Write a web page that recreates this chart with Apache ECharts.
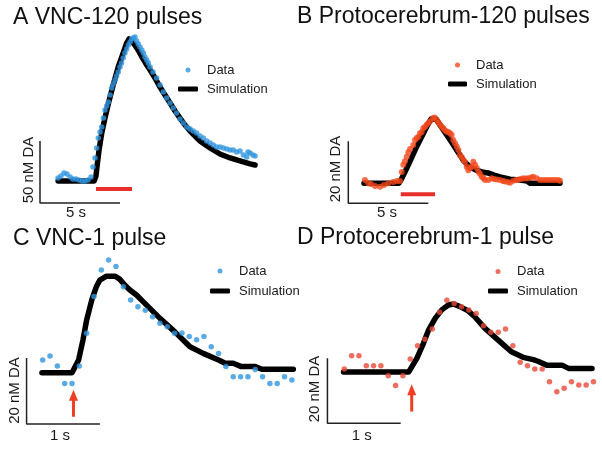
<!DOCTYPE html>
<html><head><meta charset="utf-8">
<script src="https://cdn.jsdelivr.net/npm/echarts@6/dist/echarts.min.js"></script>
<style>html,body{margin:0;padding:0;background:#fff}#c{width:602px;height:449px}</style>
</head><body><div id="c"></div>
<script>
// ---------- Panel A: VNC-120 pulses (time s, DA nM above scale-bar origin) ----------
const tA_data = [1.13,1.31,1.5,1.69,1.88,2.06,2.25,2.44,2.63,2.81,3.0,3.19,3.31,3.44,3.54,3.64,3.75,3.86,3.96,4.06,4.17,4.27,4.38,4.48,4.58,4.69,4.79,4.89,5.0,5.1,5.2,5.31,5.42,5.52,5.63,5.73,5.83,5.94,6.04,6.14,6.25,6.36,6.46,6.56,6.67,6.77,6.88,7.06,7.29,7.5,7.71,7.92,8.13,8.33,8.54,8.75,8.96,9.17,9.38,9.58,9.79,10.0,10.21,10.42,10.63,10.83,11.04,11.25,11.46,11.67,11.88,12.08,12.29,12.5,12.71,12.92,13.0,13.13,13.31,13.44];
const yA_data = [20.2,21.8,24.2,23.4,21.0,19.4,19.4,18.5,17.7,17.7,18.5,21.0,29.0,36.3,44.4,52.4,57.3,61.3,68.5,75.0,78.2,81.5,87.1,92.7,96.0,99.2,102.4,105.6,109.7,112.9,116.9,121.0,124.2,127.4,129.8,132.3,133.1,133.9,130.6,128.2,125.8,123.4,121.0,117.7,115.3,112.9,109.7,105.6,100.8,95.2,89.5,84.7,80.6,76.6,72.6,67.7,64.5,61.3,59.7,58.1,56.5,54.0,52.4,50.0,48.4,46.8,45.2,45.2,44.4,43.5,42.7,42.7,41.1,41.9,38.7,37.1,41.1,40.3,38.7,37.9];
const tA_sim = [1.13,3.38,3.5,3.56,3.69,3.86,4.06,4.33,4.56,4.89,5.13,5.42,5.56,5.69,5.88,6.13,6.38,6.63,6.88,7.19,7.5,7.81,8.13,8.44,8.75,9.06,9.38,9.69,10.0,10.63,11.25,11.88,12.5,13.13,13.44];
const yA_sim = [17.7,17.7,21.8,29.0,42.7,56.5,68.5,83.1,94.4,109.7,118.5,129.0,132.3,131.5,128.2,123.4,117.7,112.1,107.3,100.8,93.5,87.1,80.6,74.2,68.5,62.9,58.1,54.0,50.0,44.4,39.5,36.3,33.9,31.5,30.6];
const stimA = [[3.5,11.3],[5.75,11.3]];
const scaleA = [[0,50],[0,0],[5,0]];

// ---------- Panel B: Protocerebrum-120 pulses ----------
const tB_data = [1.04,1.25,1.42,1.67,1.98,2.23,2.5,2.81,3.03,3.23,3.34,3.44,3.54,3.65,3.75,3.86,4.06,4.17,4.28,4.38,4.48,4.59,4.69,4.79,4.9,5.0,5.11,5.28,5.39,5.53,5.63,5.73,5.84,5.94,6.04,6.15,6.25,6.36,6.46,6.56,6.67,6.78,6.88,6.98,7.09,7.19,7.29,7.4,7.5,7.61,7.71,7.81,7.92,8.03,8.13,8.23,8.34,8.44,8.54,8.75,8.96,9.11,9.28,9.48,9.67,9.79,9.98,10.11,10.31,10.48,10.63,10.79,10.94,11.11,11.25,11.42,11.56,11.78,11.98,12.17,12.36,12.54,12.73,12.92,13.11,13.23];
const yB_data = [7.5,6.5,6.2,5.6,5.3,5.9,6.5,6.9,7.2,7.2,10.1,12.4,13.6,15.0,16.5,17.5,18.8,20.4,21.1,21.5,22.6,23.0,24.2,24.6,25.3,25.9,26.5,27.4,27.7,26.9,26.1,25.3,24.7,24.2,23.6,23.1,23.0,22.6,22.0,20.4,19.4,18.3,17.2,15.6,14.9,14.0,13.3,11.8,10.7,11.4,11.8,13.4,12.4,11.4,10.2,9.5,8.6,8.2,7.5,7.5,8.1,7.8,7.7,7.5,7.2,7.0,6.9,6.6,7.3,7.5,7.7,7.8,8.1,8.0,8.1,8.3,8.6,8.1,7.5,7.5,7.5,7.5,7.5,7.5,7.5,7.3];
const tB_sim = [0.98,3.17,3.29,3.54,3.86,4.23,4.61,4.92,5.17,5.29,5.48,5.73,6.11,6.48,6.86,7.23,7.61,7.98,8.36,8.73,9.11,9.48,10.11,10.73,11.17,11.36,13.23];
const yB_sim = [6.5,6.5,7.5,10.1,13.6,17.8,21.7,24.9,27.2,27.8,27.2,25.3,22.4,19.5,16.5,13.6,11.7,10.7,10.1,9.8,9.1,8.5,7.8,7.5,7.2,6.5,6.5];
const stimB = [[3.28,2.9],[5.42,2.9]];
const scaleB = [[0,20],[0,0],[5,0]];

// ---------- Panel C: VNC-1 pulse ----------
const tC_data = [0,0.1,0.2,0.3,0.4,0.5,0.6,0.7,0.8,0.9,1.0,1.1,1.2,1.3,1.4,1.5,1.6,1.7,1.8,1.9,2.0,2.1,2.2,2.3,2.4,2.5,2.6,2.7,2.8,2.9,3.0,3.1,3.2,3.3,3.4];
const yC_data = [19.4,20.6,17.6,12.3,12.3,17.6,27.5,38.6,46.7,49.7,47.7,41.6,37.6,35.5,34.5,32.5,30.5,29.5,27.5,27.6,26.5,25.5,26.5,23.4,21.4,17.4,14.3,14.3,14.3,16.5,14.3,12.3,12.3,14.3,13.3];
const tC_sim = [-0.01,0.40,0.49,0.55,0.60,0.67,0.73,0.78,0.87,0.99,1.05,1.12,1.19,1.28,1.37,1.46,1.60,1.80,2.01,2.19,2.40,2.49,2.60,2.71,2.90,2.99,3.42];
const yC_sim = [15.5,15.5,19.4,25.5,31.5,37.6,41.5,43.6,44.8,44.8,43.9,42.1,40.6,39.1,37.1,35.1,32.0,28.0,23.4,21.4,19.4,18.4,18.4,17.4,17.4,16.6,16.6];
const arrowC = [[0.42,2.2],[0.42,8.7]];
const scaleC = [[-0.22,20],[-0.22,0],[0.78,0]];

// ---------- Panel D: Protocerebrum-1 pulse ----------
const tD_data = [0,0.1,0.2,0.3,0.4,0.5,0.6,0.7,0.8,0.9,1.0,1.1,1.2,1.3,1.4,1.5,1.6,1.7,1.8,1.9,2.0,2.1,2.2,2.3,2.4,2.5,2.6,2.7,2.8,2.9,3.0,3.1,3.2,3.3,3.4];
const yD_data = [16.7,20.8,20.8,17.7,17.7,17.7,14.6,11.6,14.6,19.8,23.9,25.9,29.0,34.2,37.9,36.9,35.9,34.9,33.8,30.0,28.0,28.0,29.0,23.9,18.8,17.7,16.7,16.7,12.8,9.7,10.8,12.8,11.8,11.8,12.8];
const tD_sim = [-0.01,0.88,0.99,1.08,1.15,1.24,1.33,1.42,1.49,1.58,1.69,1.78,1.92,2.10,2.28,2.44,2.58,2.65,2.76,2.97,3.06,3.38];
const yD_sim = [15.8,15.8,20.0,24.6,28.7,32.3,34.9,36.4,36.7,35.9,34.6,32.8,29.2,25.6,22.0,20.3,19.6,19.0,17.9,17.9,16.9,16.9];
const arrowD = [[0.92,3.6],[0.92,10.3]];
const scaleD = [[-0.23,20],[-0.23,0],[0.77,0]];

const titles = ['A VNC-120 pulses','B Protocerebrum-120 pulses','C VNC-1 pulse','D Protocerebrum-1 pulse'];
const yLabels = ['50 nM DA','20 nM DA','20 nM DA','20 nM DA'];
const xLabels = ['5 s','5 s','1 s','1 s'];

const FONT = '"Liberation Sans", Arial, Helvetica, sans-serif';
const BLUE = '#2f95de', ORANGE = '#f2481c', SALMON = '#e84a3a', RED = '#e8302a', ARROW = '#ef3f22';
const zip = (t, y) => t.map((v, i) => [v, y[i]]);

const panels = [
  {grid:{left:40, top:29.4, width:224, height:173.6}, x:[0,14], y:[0,140], id:'A', color:BLUE, size:5.5,
   data:zip(tA_data,yA_data), sim:zip(tA_sim,yA_sim), scale:scaleA, stim:stimA,
   legend:{left:178, top:63.5, itemGap:6, itemWidth:20},
   title:{left:13, top:6}, yl:[29,170], xl:[76,213]},
  {grid:{left:348.3, top:63.8, width:224, height:139.5}, x:[0,14], y:[0,45], id:'B', color:ORANGE, size:6,
   data:zip(tB_data,yB_data), sim:zip(tB_sim,yB_sim), scale:scaleB, stim:stimB,
   legend:{left:448, top:58.5, itemGap:6, itemWidth:19},
   title:{left:297, top:5}, yl:[335.5,169], xl:[387,213]},
  {grid:{left:20.7, top:242.5, width:278.5, height:181.5}, x:[-0.3,3.5], y:[0,55], id:'C', color:BLUE, size:5.5,
   data:zip(tC_data,yC_data), sim:zip(tC_sim,yC_sim), scale:scaleC, arrow:arrowC,
   legend:{left:210, top:264.5, itemGap:7, itemWidth:20},
   title:{left:13, top:227}, yl:[15,390.5], xl:[60,436]},
  {grid:{left:322.3, top:260.8, width:278.5, height:162.5}, x:[-0.3,3.5], y:[0,50], id:'D', color:SALMON, size:5.5,
   data:zip(tD_data,yD_data), sim:zip(tD_sim,yD_sim), scale:scaleD, arrow:arrowD,
   legend:{left:488, top:265, itemGap:6.5, itemWidth:20},
   title:{left:297, top:226}, yl:[315,389], xl:[361.7,436]}
];

const option = {animation:false, backgroundColor:'#fff', title:[], legend:[], grid:[], xAxis:[], yAxis:[], series:[], graphic:[]};
panels.forEach((p, i) => {
  option.grid.push(p.grid);
  option.xAxis.push({type:'value', gridIndex:i, min:p.x[0], max:p.x[1], show:false});
  option.yAxis.push({type:'value', gridIndex:i, min:p.y[0], max:p.y[1], show:false});
  option.title.push({text:titles[i], left:p.title.left, top:p.title.top, padding:0,
    textStyle:{fontFamily:FONT, fontSize:23, fontWeight:'normal', color:'#111'}});
  option.legend.push({orient:'vertical', left:p.legend.left, top:p.legend.top, padding:0,
    itemWidth:p.legend.itemWidth, itemHeight:5, itemGap:p.legend.itemGap, selectedMode:false,
    formatter: n => n.split('|')[0],
    textStyle:{fontFamily:FONT, fontSize:13, color:'#1a1a1a', padding:[0,0,0,4]},
    data:[{name:'Data|'+p.id, icon:'circle'}, {name:'Simulation|'+p.id, icon:'roundRect'}]});
  const ax = {xAxisIndex:i, yAxisIndex:i};
  option.series.push(Object.assign({type:'line', data:p.scale, symbol:'none', silent:true, clip:false, z:1,
    lineStyle:{color:'#222', width:1.5}}, ax));
  if (p.stim) option.series.push(Object.assign({type:'line', data:p.stim, symbol:'none', silent:true, clip:false, z:1,
    lineStyle:{color:RED, width:4}}, ax));
  if (p.arrow) option.series.push(Object.assign({type:'line', silent:true, clip:false, z:1, showSymbol:true,
    data:[{value:p.arrow[0], symbol:'none'}, {value:p.arrow[1], symbol:'triangle', symbolSize:[9,11]}],
    lineStyle:{color:ARROW, width:3}, itemStyle:{color:ARROW}}, ax));
  option.series.push(Object.assign({name:'Simulation|'+p.id, type:'line', data:p.sim, symbol:'none', clip:false, z:2,
    itemStyle:{color:'#000'}, lineStyle:{color:'#000', width:5.5, cap:'round', join:'round'}}, ax));
  option.series.push(Object.assign({name:'Data|'+p.id, type:'scatter', data:p.data, symbolSize:p.size, clip:false, z:3,
    itemStyle:{color:p.color}}, ax));
  option.graphic.push({type:'text', x:p.yl[0], y:p.yl[1], rotation:Math.PI/2,
    style:{text:yLabels[i], font:'15px '+FONT, fill:'#1a1a1a', align:'center', verticalAlign:'middle'}});
  option.graphic.push({type:'text', x:p.xl[0], y:p.xl[1],
    style:{text:xLabels[i], font:'15px '+FONT, fill:'#1a1a1a', align:'center', verticalAlign:'middle'}});
});

const chart = echarts.init(document.getElementById('c'), null, {renderer:'canvas'});
chart.setOption(option);
</script></body></html>
